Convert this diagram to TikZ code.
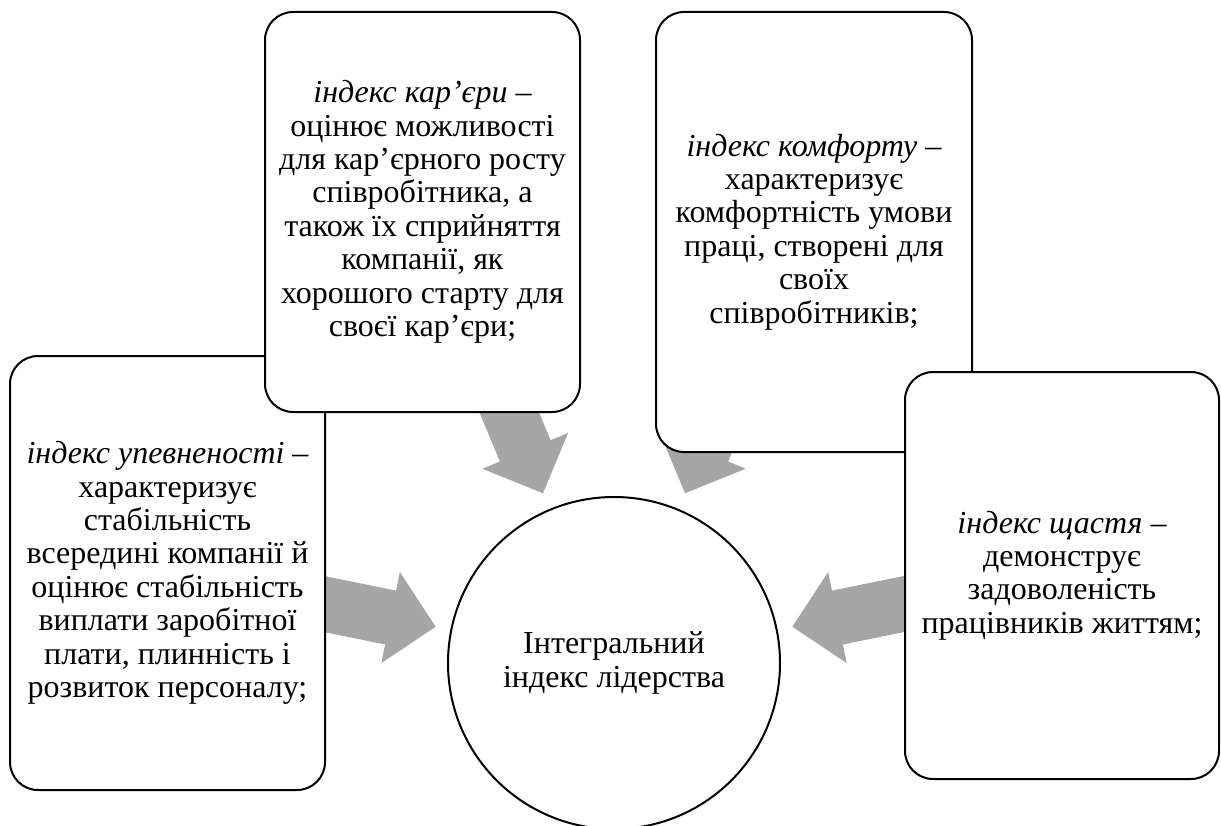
\documentclass[tikz,border=0pt]{standalone}
\usepackage{fontspec}
\setmainfont{Liberation Serif}
\usetikzlibrary{calc,backgrounds}
\definecolor{arrowfill}{HTML}{A6A6A6}
\tikzset{
  box/.style={draw=black, line width=2pt, fill=white, rounded corners=28pt, align=center, inner sep=0pt,
    font=\fontsize{32}{33.4}\selectfont},
  hub/.style={draw=black, line width=2pt, fill=white, circle, align=center, inner sep=0pt, minimum size=332pt,
    font=\fontsize{32}{33.4}\selectfont}
}
\newcommand\blockarrow[3]{%
  \coordinate (#1h) at ($(#3)!46pt!(#2)$);
  \fill[arrowfill] ($(#2)!27.5pt!90:(#3)$) -- ($(#1h)!27.5pt!90:(#3)$) -- ($(#1h)!46.5pt!90:(#3)$) -- (#3)
    -- ($(#1h)!46.5pt!-90:(#3)$) -- ($(#1h)!27.5pt!-90:(#3)$) -- ($(#2)!27.5pt!-90:(#3)$) -- cycle;
}
\begin{document}
\begin{tikzpicture}[x=1pt,y=-1pt]
\useasboundingbox (0,0) rectangle (1221,826);
\node[box, minimum width=315pt, minimum height=434pt] (upev) at (167.5,573) {\textit{індекс упевненості} –\\характеризує\\стабільність\\всередині компанії й\\оцінює стабільність\\виплати заробітної\\плати, плинність і\\розвиток персоналу;};
\node[box, minimum width=315pt, minimum height=400pt] (kar) at (422.5,212) {\textit{індекс кар’єри} –\\оцінює можливості\\для кар’єрного росту\\співробітника, а\\також їх сприйняття\\компанії, як\\хорошого старту для\\своєї кар’єри;};
\node[box, minimum width=316pt, minimum height=440pt] (komf) at (814,232) {\textit{індекс комфорту} –\\характеризує\\комфортність умови\\праці, створені для\\своїх\\співробітників;};
\node[box, minimum width=314pt, minimum height=407pt] (shch) at (1062,575.5) {\textit{індекс щастя} –\\демонструє\\задоволеність\\працівників життям;};
\node[hub] (c) at (614,663) {Інтегральний\\індекс лідерства};
\coordinate (a1s) at ($(c.center)+(247.3:300)$);
\coordinate (a1t) at ($(c.center)+(247.3:184)$);
\coordinate (a2s) at ($(c.center)+(292.7:300)$);
\coordinate (a2t) at ($(c.center)+(292.7:184)$);
\coordinate (a3s) at ($(c.center)+(191.5:320)$);
\coordinate (a3t) at ($(c.center)+(191.5:182)$);
\coordinate (a4s) at ($(c.center)+(348.5:320)$);
\coordinate (a4t) at ($(c.center)+(348.5:182)$);
\begin{scope}[on background layer]
\blockarrow{a1}{a1s}{a1t}
\blockarrow{a2}{a2s}{a2t}
\blockarrow{a3}{a3s}{a3t}
\blockarrow{a4}{a4s}{a4t}
\end{scope}
\end{tikzpicture}
\end{document}
